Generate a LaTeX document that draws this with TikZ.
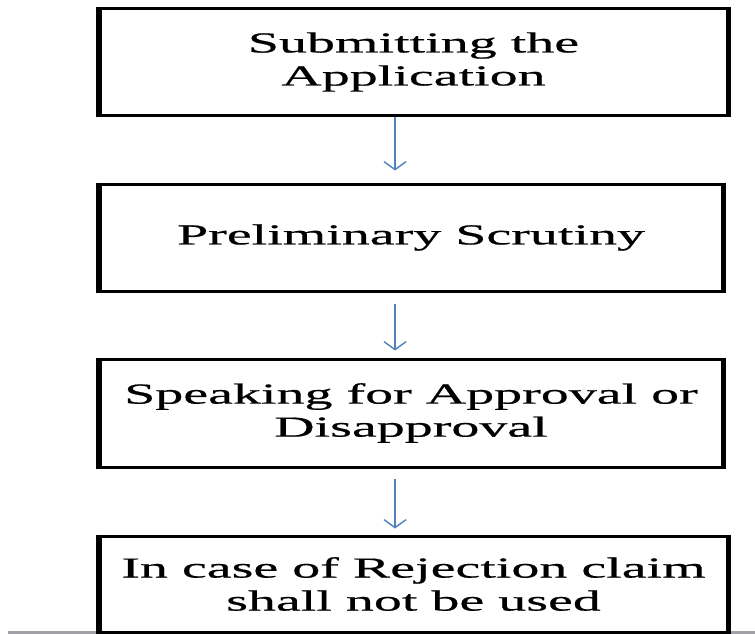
\documentclass[tikz,border=0pt]{standalone}
\usepackage{fontspec}
\setmainfont[FakeStretch=1.93,FakeBold=0.6]{Liberation Serif}
\usetikzlibrary{arrows.meta}
\definecolor{arrowblue}{RGB}{79,129,189}
\definecolor{basegray}{RGB}{160,160,166}
\begin{document}
\begin{tikzpicture}[x=1pt,y=-1pt,
  stepbox/.style={draw=black, line width=3pt, inner sep=0pt, align=center,
    font=\fontsize{29}{33}\selectfont},
  side/.style={draw=black, line width=5.5pt, line cap=butt},
  arr/.style={draw=arrowblue, line width=1.4pt,
    -{Straight Barb[length=8pt,width=22pt]}},
  baseline line/.style={draw=basegray, line width=3pt}]
\useasboundingbox (0,0) rectangle (755,634);
\fill[white] (0,0) rectangle (755,634);
\draw[baseline line] (8,632) -- (755,632);

\node[stepbox, minimum width=627pt, minimum height=106pt] (b1) at (413.5,62)
  {Submitting the\\Application};
\node[stepbox, minimum width=622pt, minimum height=107pt] (b2) at (411,237.5)
  {Preliminary Scrutiny};
\node[stepbox, minimum width=622pt, minimum height=108pt] (b3) at (411,413)
  {Speaking for Approval or\\Disapproval};
\node[stepbox, minimum width=627pt, minimum height=96pt] (b4) at (413.5,584)
  {In case of Rejection claim\\shall not be used};

\foreach \b in {b1,b2,b3,b4}{
  \draw[side] (\b.north west) -- (\b.south west);
  \draw[side] (\b.north east) -- (\b.south east);
}

\coordinate (ax) at (395,0);
\draw[arr, shorten >=12pt] (b1.south -| ax) -- (b2.north -| ax);
\draw[arr, shorten <=11pt, shorten >=7pt] (b2.south -| ax) -- (b3.north -| ax);
\draw[arr, shorten <=10pt, shorten >=6pt] (b3.south -| ax) -- (b4.north -| ax);
\end{tikzpicture}
\end{document}
